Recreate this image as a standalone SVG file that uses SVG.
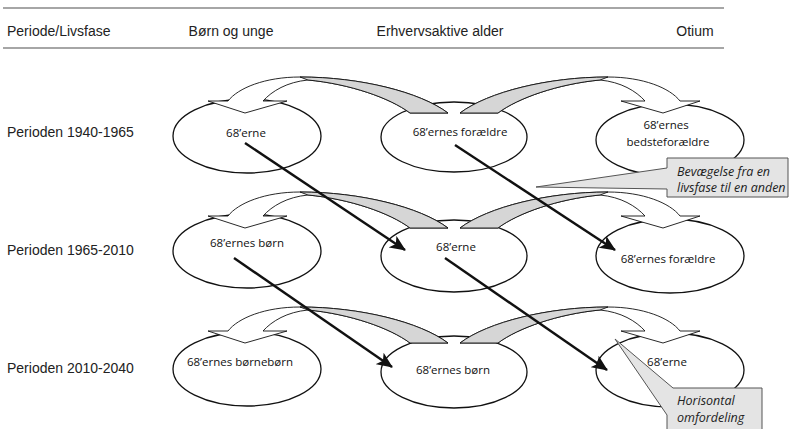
<svg xmlns="http://www.w3.org/2000/svg" xmlns:xlink="http://www.w3.org/1999/xlink" width="791" height="429" viewBox="0 0 791 429">
<style>
.hd{font-family:"Liberation Sans",Arial,sans-serif;font-size:14px;fill:#222}
.nd ellipse{fill:#fff;stroke:#111;stroke-width:1.3}
.nd text{font-family:"Open Sans","Noto Sans",sans-serif;font-size:11.5px;fill:#111;text-anchor:middle}
.body{fill:#fff;stroke:#111;stroke-width:0.9;stroke-linejoin:round}
.shade{fill:#d6d6d6;stroke:#111;stroke-width:0.9;stroke-linejoin:round}
.diag{stroke:#111;stroke-width:2.4;fill:none;marker-end:url(#ah)}
.co{fill:#e4e4e4;stroke:#555;stroke-width:1}
.ct{font-family:"Open Sans","Noto Sans",sans-serif;font-style:italic;font-size:12.5px;fill:#222}
</style>
<defs>
<marker id="ah" markerUnits="userSpaceOnUse" viewBox="0 0 16 14" markerWidth="16" markerHeight="14" refX="15" refY="7" orient="auto">
<path d="M0,0 L16,7 L0,14 L4,7 Z" fill="#111"/>
</marker>
<g id="curve">
<path class="body" d="M448,113 C420,92 360,77 300,77 C265,77 238,88 228,101 L208,101 L245,113 L287,101 L263,101 C272,91 287,82 308,80 C350,84 390,98 410,113 Z"/>
<path class="shade" d="M300,77 C360,77 420,92 448,113 L410,113 C390,98 350,84 308,80 Z"/>
</g>
</defs>
<rect width="791" height="429" fill="#fff"/>
<g id="header">
<line x1="3" y1="8" x2="724" y2="8" stroke="#888" stroke-width="1.5"/>
<line x1="3" y1="48" x2="724" y2="48" stroke="#888" stroke-width="1.5"/>
<text class="hd" x="7" y="36">Periode/Livsfase</text>
<text class="hd" x="231" y="36" text-anchor="middle">Børn og unge</text>
<text class="hd" x="440" y="36" text-anchor="middle">Erhvervsaktive alder</text>
<text class="hd" x="695" y="36" text-anchor="middle">Otium</text>
<text class="hd" x="7" y="137">Perioden 1940-1965</text>
<text class="hd" x="7" y="255">Perioden 1965-2010</text>
<text class="hd" x="7" y="373">Perioden 2010-2040</text>
</g>
<g id="n1" class="nd"><ellipse cx="247" cy="136" rx="74" ry="37"/><text x="246" y="137">68’erne</text></g>
<g id="n2" class="nd"><ellipse cx="454" cy="137" rx="73" ry="35"/><text x="460" y="136">68’ernes forældre</text></g>
<g id="n3" class="nd"><ellipse cx="670" cy="140" rx="74" ry="36"/><text x="666" y="129">68’ernes</text><text x="668" y="146">bedsteforældre</text></g>
<g id="n4" class="nd"><ellipse cx="247" cy="251" rx="74" ry="37"/><text x="247" y="247">68’ernes børn</text></g>
<g id="n5" class="nd"><ellipse cx="454" cy="256" rx="73" ry="36"/><text x="456" y="251">68’erne</text></g>
<g id="n6" class="nd"><ellipse cx="670" cy="256" rx="74" ry="37"/><text x="668" y="263">68’ernes forældre</text></g>
<g id="n7" class="nd"><ellipse cx="247" cy="369" rx="74" ry="37"/><text x="240" y="366">68’ernes børnebørn</text></g>
<g id="n8" class="nd"><ellipse cx="454" cy="372" rx="73" ry="36"/><text x="453" y="374">68’ernes børn</text></g>
<g id="n9" class="nd"><ellipse cx="670" cy="370" rx="74" ry="37"/><text x="667" y="366">68’erne</text></g>
<g id="connectors">
<use xlink:href="#curve"/>
<use xlink:href="#curve" transform="translate(908,0) scale(-1,1)"/>
<use xlink:href="#curve" transform="translate(0,115)"/>
<use xlink:href="#curve" transform="translate(908,115) scale(-1,1)"/>
<use xlink:href="#curve" transform="translate(0,230)"/>
<use xlink:href="#curve" transform="translate(908,230) scale(-1,1)"/>
<line class="diag" x1="245" y1="143" x2="405" y2="250"/>
<line class="diag" x1="455" y1="145" x2="615" y2="250"/>
<line class="diag" x1="234" y1="258" x2="392" y2="367"/>
<line class="diag" x1="445" y1="258" x2="607" y2="370"/>
</g>
<g id="callout1">
<path class="co" d="M667,158 H788 V197 H667 V189 L536,187 L667,168 Z"/>
<text class="ct" x="677" y="176">Bevægelse fra en</text>
<text class="ct" x="677" y="192">livsfase til en anden</text>
</g>
<g id="callout2">
<path class="co" d="M673,388 H762 V435 H667 V415 L615,339 Z"/>
<text class="ct" x="677" y="405">Horisontal</text>
<text class="ct" x="677" y="422">omfordeling</text>
</g>
</svg>
